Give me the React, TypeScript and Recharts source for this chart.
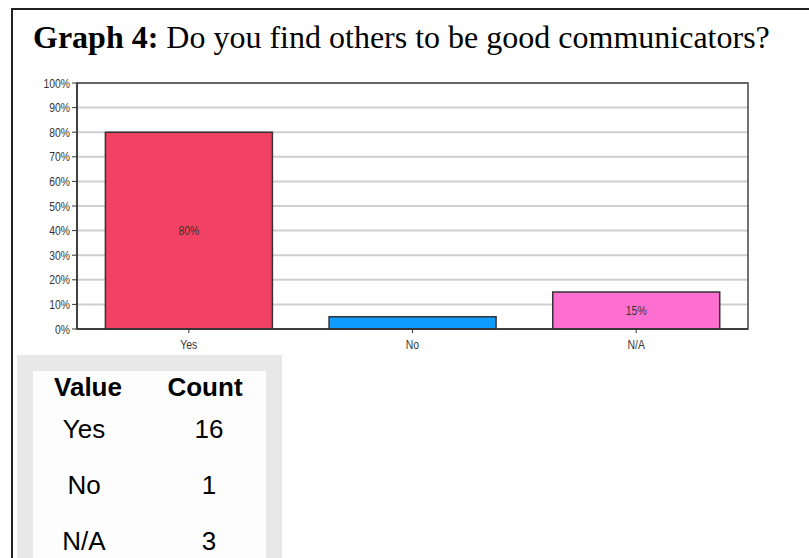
import { BarChart, Bar, XAxis, YAxis, CartesianGrid, ReferenceArea, Cell, LabelList } from 'recharts'

// chart data
const categories = ['Yes', 'No', 'N/A']
const percents = [80, 5, 15]
const barLabels = ['80%', '', '15%']
const barColors = ['#F24263', '#109BFF', '#FF6FCF']
const yTicks = [0, 10, 20, 30, 40, 50, 60, 70, 80, 90, 100]

// table data
const tableHeaders = ['Value', 'Count']
const tableValues = ['Yes', 'No', 'N/A']
const tableCounts = [16, 1, 3]

const titleBold = 'Graph 4:'
const titleText = ' Do you find others to be good communicators?'

const axisFont = "'Liberation Sans', Arial, sans-serif"
const tableFont = "'Liberation Sans', Arial, sans-serif"

const data = categories.map((name, i) => ({ name, value: percents[i], label: barLabels[i] }))

// the original uses a narrow font, so squeeze Arial horizontally
function NarrowText({ x, y, anchor, text, dy }: { x: number; y: number; anchor: 'start' | 'middle' | 'end'; text: string; dy: number }) {
  return (
    <text
      x={0}
      y={0}
      dy={dy}
      textAnchor={anchor}
      transform={`translate(${x},${y}) scale(0.8,1)`}
      fill="#333"
      fontSize={13}
      fontFamily={axisFont}
    >
      {text}
    </text>
  )
}

const YTick = (props: any) => (
  <NarrowText x={props.x} y={props.y} anchor="end" text={`${props.payload.value}%`} dy={4.5} />
)

const XTick = (props: any) => (
  <NarrowText x={props.x} y={props.y} anchor="middle" text={props.payload.value} dy={9.5} />
)

const BarLabel = (props: any) => {
  const { x, y, width, height, value } = props
  if (!value) return null
  return <NarrowText x={x + width / 2} y={y + height / 2} anchor="middle" text={value} dy={4.5} />
}

export default function App() {
  return (
    <div style={{ position: 'absolute', left: 0, top: 0, width: 809, height: 558, background: '#fff', overflow: 'hidden' }}>
      {/* frame */}
      <div style={{
        position: 'absolute', left: 11, top: 8, width: 900, height: 700,
        borderLeft: '2px solid #222', borderTop: '2px solid #222',
      }} />

      <div style={{
        position: 'absolute', left: 33, top: 21, whiteSpace: 'nowrap',
        fontFamily: "'Liberation Serif', 'Times New Roman', serif", fontSize: 32, lineHeight: '32px', color: '#000',
      }}>
        <b>{titleBold}</b>{titleText}
      </div>

      <div style={{ position: 'absolute', left: 0, top: 0 }}>
        <BarChart
          width={809}
          height={360}
          data={data}
          margin={{ top: 83, right: 61, bottom: 0, left: 0 }}
          barCategoryGap="12.7%"
        >
          <CartesianGrid horizontal vertical={false} stroke="#cfcfcf" strokeWidth={2} />
          <XAxis
            dataKey="name"
            height={31}
            tick={<XTick />}
            tickSize={4}
            tickMargin={6}
            axisLine={{ stroke: '#333', strokeWidth: 1.5 }}
            tickLine={{ stroke: '#333' }}
          />
          <YAxis
            type="number"
            domain={[0, 100]}
            ticks={yTicks}
            interval={0}
            width={77}
            tick={<YTick />}
            tickSize={5}
            tickMargin={2}
            axisLine={{ stroke: '#333', strokeWidth: 1.5 }}
            tickLine={{ stroke: '#333' }}
          />
          <ReferenceArea y1={0} y2={100} fill="none" stroke="#444" strokeWidth={1.5} ifOverflow="visible" />
          <Bar dataKey="value" stroke="#333" strokeWidth={1.5} isAnimationActive={false}>
            {data.map((d, i) => (
              <Cell key={d.name} fill={barColors[i]} />
            ))}
            <LabelList dataKey="label" content={<BarLabel />} />
          </Bar>
        </BarChart>
      </div>

      {/* table */}
      <div style={{ position: 'absolute', left: 17, top: 355, width: 265, height: 210, background: '#e8e8e8' }}>
        <div style={{ position: 'absolute', left: 16, top: 16, width: 233, height: 200, background: '#fdfdfd' }} />
        <div style={{ position: 'absolute', left: 0, top: 19, width: 265, fontFamily: tableFont, fontSize: 26, color: '#000' }}>
          <div style={{ display: 'flex', height: 42, lineHeight: '26px', fontWeight: 'bold' }}>
            <div style={{ position: 'absolute', left: 21, width: 100, textAlign: 'center' }}>{tableHeaders[0]}</div>
            <div style={{ position: 'absolute', left: 138, width: 100, textAlign: 'center' }}>{tableHeaders[1]}</div>
          </div>
          {tableValues.map((v, i) => (
            <div key={v} style={{ position: 'relative', height: 56, lineHeight: '26px' }}>
              <div style={{ position: 'absolute', left: 17, width: 100, textAlign: 'center' }}>{v}</div>
              <div style={{ position: 'absolute', left: 142, width: 100, textAlign: 'center' }}>{tableCounts[i]}</div>
            </div>
          ))}
        </div>
      </div>
    </div>
  )
}
